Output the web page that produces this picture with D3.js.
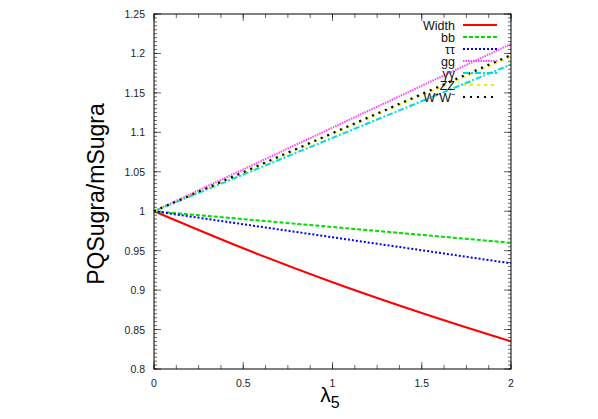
<!DOCTYPE html>
<meta charset="utf-8">
<style>
body { margin: 0; background: #fff; }
text { font-family: "Liberation Sans", Arial, sans-serif; }
</style>
<svg width="598" height="419"></svg>
<script src="https://d3js.org/d3.v7.min.js"></script>
<script>
// lambda5 values and ratio PQSugra/mSugra for each channel
var lam = [0, 0.5, 1, 1.5, 2];
var width_ = [1, 0.953, 0.910, 0.871, 0.835];
var bb = [1, 0.990, 0.980, 0.970, 0.960];
var tautau = [1, 0.9835, 0.967, 0.9505, 0.934];
var gg = [1, 1.053, 1.106, 1.159, 1.212];
var gamgam = [1, 1.0465, 1.093, 1.1395, 1.186];
var zz = [1, 1.049, 1.098, 1.147, 1.196];
var ww = [1, 1.0495, 1.099, 1.1485, 1.198];

var xTicks = [0, 0.5, 1, 1.5, 2];
var yTicks = [0.8, 0.85, 0.9, 0.95, 1, 1.05, 1.1, 1.15, 1.2, 1.25];

var series = [
  {name: "Width", vals: width_, color: "#ff0000", dash: null, w: 2},
  {name: "bb", vals: bb, color: "#00dd00", dash: "4,2", w: 2},
  {name: "\u03c4\u03c4", vals: tautau, color: "#0000ff", dash: "2,2", w: 2},
  {name: "gg", vals: gg, color: "#ff44ff", dash: "1.5,1", w: 2},
  {name: "\u03b3\u03b3", vals: gamgam, color: "#00dddd", dash: "6,2,2,2", w: 2},
  {name: "ZZ", vals: zz, color: "#eeee00", dash: "3,4", w: 2},
  {name: "W\u207aW\u207b", vals: ww, color: "#000000", dash: "2,5", w: 2.2}
];

var svg = d3.select("svg");
var m = {l: 154, r: 511, t: 14, b: 369};

var x = d3.scaleLinear().domain([0, 2]).range([m.l, m.r]);
var y = d3.scaleLinear().domain([0.8, 1.25]).range([m.b, m.t]);

// minor ticks
var xMinor = d3.range(0, 2.0001, 0.125);
var yMinor = d3.range(0.8, 1.2501, 0.005);
var g = svg.append("g").attr("stroke", "#000").attr("stroke-width", 0.6);
xMinor.forEach(function(v) {
  g.append("line").attr("x1", x(v)).attr("x2", x(v)).attr("y1", m.b).attr("y2", m.b - 4);
  g.append("line").attr("x1", x(v)).attr("x2", x(v)).attr("y1", m.t).attr("y2", m.t + 4);
});
yMinor.forEach(function(v) {
  g.append("line").attr("y1", y(v)).attr("y2", y(v)).attr("x1", m.l).attr("x2", m.l + 3);
  g.append("line").attr("y1", y(v)).attr("y2", y(v)).attr("x1", m.r).attr("x2", m.r - 3);
});
xTicks.forEach(function(v) {
  g.append("line").attr("x1", x(v)).attr("x2", x(v)).attr("y1", m.b).attr("y2", m.b - 7);
  g.append("line").attr("x1", x(v)).attr("x2", x(v)).attr("y1", m.t).attr("y2", m.t + 7);
});
yTicks.forEach(function(v) {
  g.append("line").attr("y1", y(v)).attr("y2", y(v)).attr("x1", m.l).attr("x2", m.l + 7);
  g.append("line").attr("y1", y(v)).attr("y2", y(v)).attr("x1", m.r).attr("x2", m.r - 7);
});

svg.append("g").selectAll("text").data(xTicks).enter().append("text")
  .attr("x", function(d) { return x(d); }).attr("y", 387)
  .attr("text-anchor", "middle").attr("font-size", 10.5).attr("fill", "#222")
  .text(function(d) { return d; });
svg.append("g").selectAll("text").data(yTicks).enter().append("text")
  .attr("x", 145).attr("y", function(d) { return y(d) + 4; })
  .attr("text-anchor", "end").attr("font-size", 10.5).attr("fill", "#222")
  .text(function(d) { return d; });

var line = d3.line()
  .curve(d3.curveMonotoneX)
  .x(function(d, i) { return x(lam[i]); })
  .y(function(d) { return y(d); });

svg.append("g").selectAll("path").data(series).enter().append("path")
  .attr("d", function(d) { return line(d.vals); })
  .attr("fill", "none")
  .attr("stroke", function(d) { return d.color; })
  .attr("stroke-width", function(d) { return d.w; })
  .attr("stroke-dasharray", function(d) { return d.dash; });

// frame
svg.append("rect").attr("x", m.l).attr("y", m.t).attr("width", m.r - m.l).attr("height", m.b - m.t)
  .attr("fill", "none").attr("stroke", "#000").attr("stroke-width", 1);

// legend
var lg = svg.append("g").selectAll("g").data(series).enter().append("g")
  .attr("transform", function(d, i) { return "translate(0," + (25 + i * 12) + ")"; });
lg.append("text").attr("x", 455).attr("y", 4.5).attr("text-anchor", "end")
  .attr("font-size", 12.5).attr("fill", "#111").text(function(d) { return d.name; });
lg.append("line").attr("x1", 463).attr("x2", 497).attr("y1", 0).attr("y2", 0)
  .attr("stroke", function(d) { return d.color; })
  .attr("stroke-width", function(d) { return d.w; })
  .attr("stroke-dasharray", function(d) { return d.dash; });

// axis titles
svg.append("text").attr("transform", "translate(104,194) rotate(-90)")
  .attr("text-anchor", "middle").attr("font-size", 23).text("PQSugra/mSugra");
var xl = svg.append("text").attr("x", 330).attr("y", 402).attr("text-anchor", "middle").attr("font-size", 21);
xl.append("tspan").text("\u03bb");
xl.append("tspan").attr("font-size", 16).attr("dy", 6).text("5");
</script>
